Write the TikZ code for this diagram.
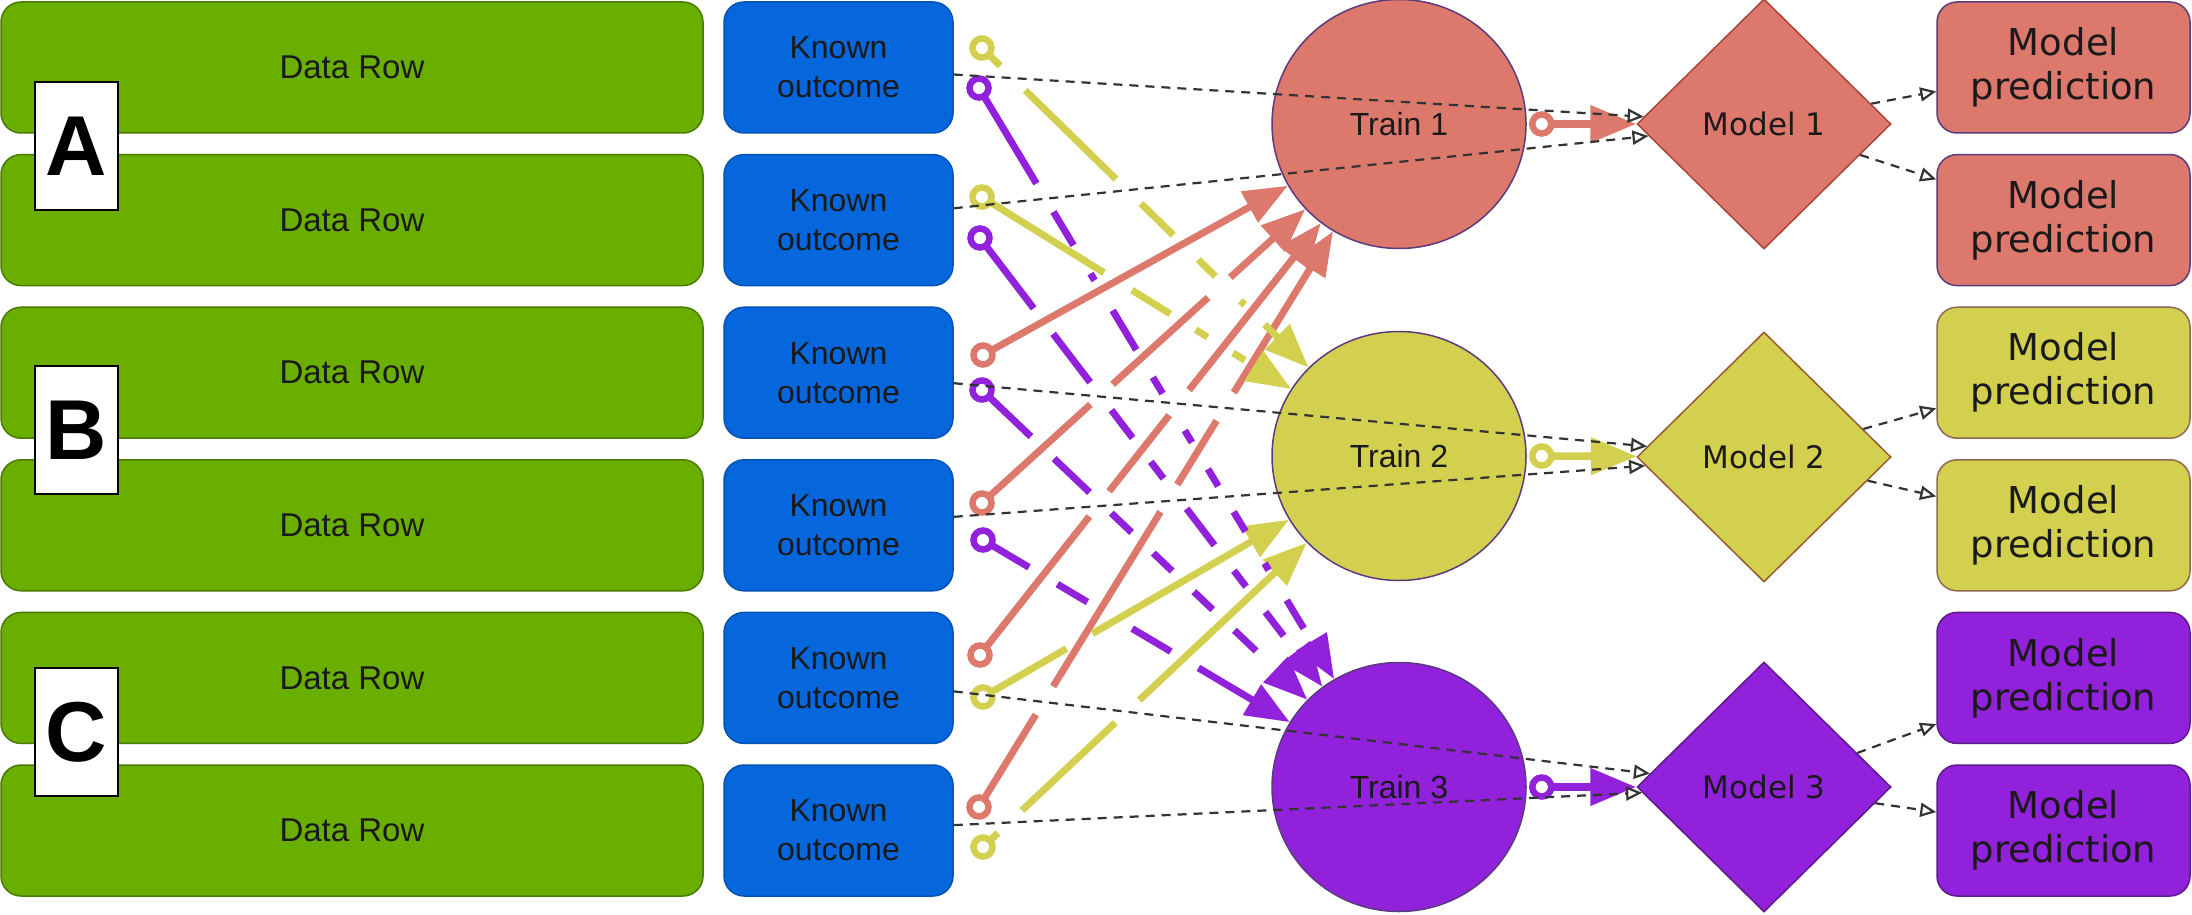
\documentclass[tikz,border=0pt]{standalone}
\usepackage{fontspec}
\setmainfont{Liberation Sans}
\newfontfamily\dejavu{DejaVu Sans}
\usetikzlibrary{arrows.meta,shapes.geometric,calc}
\definecolor{rowgreen}{HTML}{6AAF00}
\definecolor{rowgreenb}{HTML}{4A7A00}
\definecolor{kblue}{HTML}{0667DD}
\definecolor{kblueb}{HTML}{0552B5}
\definecolor{cred}{HTML}{DD786C}
\definecolor{cyel}{HTML}{D3D04F}
\definecolor{cpur}{HTML}{9121DB}
\definecolor{credb}{HTML}{A8453C}
\definecolor{cyelb}{HTML}{9A5A30}
\definecolor{cpurb}{HTML}{5E1A8A}
\definecolor{cbord}{HTML}{5C3A7E}
\definecolor{dgray}{HTML}{333333}
\definecolor{txt}{HTML}{1A1A1A}
\begin{document}
\begin{tikzpicture}[x=1pt,y=-1pt,
 datarow/.style={draw=rowgreenb, line width=1.5pt, fill=rowgreen, rounded corners=20pt, minimum width=702pt, minimum height=131pt, inner sep=0pt, text=txt, font=\fontsize{33}{38}\selectfont},
 known/.style={draw=kblueb, line width=1.5pt, fill=kblue, rounded corners=20pt, minimum width=229pt, minimum height=131pt, align=center, inner sep=0pt, text=txt, font=\fontsize{32}{39}\selectfont},
 pred/.style={line width=1.5pt, rounded corners=20pt, minimum width=253pt, minimum height=131pt, align=center, inner sep=0pt, text=txt, font=\dejavu\fontsize{37}{44}\selectfont},
 train/.style={ellipse, draw=cbord, line width=1.5pt, minimum width=254pt, minimum height=249pt, inner sep=0pt, text=txt, font=\fontsize{32}{36}\selectfont},
 model/.style={diamond, line width=1.5pt, minimum width=254pt, minimum height=250pt, inner sep=0pt, text=txt, font=\dejavu\fontsize{31}{36}\selectfont},
 grp/.style={draw=black, line width=2pt, fill=white, minimum width=83pt, minimum height=128pt, inner sep=0pt, font=\bfseries\fontsize{85}{90}\selectfont},
 tail/.style={circle, draw, line width=6.5pt, fill=white, minimum size=19pt, inner sep=0pt, outer sep=0pt},
 feed/.style={line width=7pt, -{Triangle[length=44pt,width=34pt]}},
 outarrow/.style={line width=7.5pt, -{Triangle[length=46pt,width=36pt]}},
 dline/.style={draw=dgray, line width=2.2pt, dash pattern=on 9pt off 7pt, -{Triangle[open,length=16pt,width=14pt,fill=white]}},
]
\useasboundingbox (0,0) rectangle (2192,915);

% data rows and known outcomes
\foreach \i/\y in {1/67.5,2/220.1,3/372.7,4/525.3,5/677.9,6/830.5}{
  \node[datarow] (d\i) at (352,\y) {Data Row};
  \node[known] (k\i) at (838.5,\y) {Known\\outcome};
}

% group labels
\node[grp] (ga) at (76.5,146) {A};
\node[grp] (gb) at (76.5,430) {B};
\node[grp] (gc) at (76,732) {C};

% training sets
\node[train, fill=cred] (t1) at (1399,124) {Train 1};
\node[train, fill=cyel] (t2) at (1399,456) {Train 2};
\node[train, fill=cpur] (t3) at (1399,787) {Train 3};

% models
\node[model, fill=cred, draw=credb] (m1) at (1764,124) {Model 1};
\node[model, fill=cyel, draw=cyelb] (m2) at (1764,457) {Model 2};
\node[model, fill=cpur, draw=cpurb] (m3) at (1764,787) {Model 3};

% predictions
\node[pred, fill=cred, draw=cbord] (p1) at (2063.5,67.5) {Model\\prediction};
\node[pred, fill=cred, draw=cbord] (p2) at (2063.5,220.1) {Model\\prediction};
\node[pred, fill=cyel, draw=cyelb!60!gray] (p3) at (2063.5,372.7) {Model\\prediction};
\node[pred, fill=cyel, draw=cyelb!60!gray] (p4) at (2063.5,525.3) {Model\\prediction};
\node[pred, fill=cpur, draw=cpurb] (p5) at (2063.5,677.9) {Model\\prediction};
\node[pred, fill=cpur, draw=cpurb] (p6) at (2063.5,830.5) {Model\\prediction};

% tails of the feeding lines
\node[tail, draw=cyel] (s1u) at (982,48) {};
\node[tail, draw=cpur] (s1l) at (979,88) {};
\node[tail, draw=cyel] (s2u) at (982,197) {};
\node[tail, draw=cpur] (s2l) at (980,238) {};
\node[tail, draw=cred] (s3u) at (983,355) {};
\node[tail, draw=cpur] (s3l) at (982,390) {};
\node[tail, draw=cred] (s4u) at (982,503) {};
\node[tail, draw=cpur] (s4l) at (983,540) {};
\node[tail, draw=cred] (s5u) at (980,655) {};
\node[tail, draw=cyel] (s5l) at (983,697) {};
\node[tail, draw=cred] (s6u) at (979,807) {};
\node[tail, draw=cyel] (s6l) at (983,847) {};

% red feeds -> Train 1
\draw[feed, cred] (s3u) -- (t1);
\draw[feed, cred, dash pattern=on 137pt off 30pt on 129pt off 30pt on 400pt] (s4u) -- (t1);
\draw[feed, cred, dash pattern=on 167pt off 32pt on 97pt off 32pt on 400pt] (s5u) -- (t1);
\draw[feed, cred, dash pattern=on 99pt off 33pt on 205pt off 32pt on 75pt off 33pt on 400pt] (s6u) -- (t1);

% yellow feeds -> Train 2
\draw[feed, cyel, dash pattern=on 16pt off 35pt on 127pt off 35pt on 45pt off 35pt on 24pt off 35pt on 6pt off 28pt on 400pt] (s1u) -- (t2);
\draw[feed, cyel, dash pattern=on 134pt off 33pt on 45pt off 30pt on 14pt off 30pt on 14pt off 30pt on 400pt] (s2u) -- (t2);
\draw[feed, cyel, dash pattern=on 87pt off 30pt on 400pt] (s5l) -- (t2);
\draw[feed, cyel, dash pattern=on 11pt off 33pt on 128pt off 33pt on 400pt] (s6l) -- (t2);

% purple feeds -> Train 3
\draw[feed, cpur, dash pattern=on 102pt off 33pt on 39pt off 33pt on 8pt off 35pt on 46pt off 32pt on 19pt off 43pt on 14pt off 31pt on 20pt off 30pt on 23pt off 37pt on 8pt off 35pt on 33pt off 30pt on 400pt] (s1l) -- (t3);
\draw[feed, cpur, dash pattern=on 79pt off 32pt on 61pt off 35pt on 35pt off 30pt on 21pt off 38pt on 46pt off 32pt on 20pt off 32pt on 30pt off 30pt on 400pt] (s2l) -- (t3);
\draw[feed, cpur, dash pattern=on 58pt off 32pt on 49pt off 30pt on 28pt off 30pt on 26pt off 30pt on 26pt off 30pt on 30pt off 30pt on 400pt] (s3l) -- (t3);
\draw[feed, cpur, dash pattern=on 44pt off 33pt on 35pt off 52pt on 45pt off 32pt on 400pt] (s4l) -- (t3);

% train -> model
\node[tail, draw=cred] (o1) at ($(t1.east)+(15,0)$) {};
\node[tail, draw=cyel] (o2) at ($(t2.east)+(15,0)$) {};
\node[tail, draw=cpur] (o3) at ($(t3.east)+(15,0)$) {};
\draw[outarrow, cred] (o1) -- (m1);
\draw[outarrow, cyel] (o2) -- (m2);
\draw[outarrow, cpur] (o3) -- (m3);

% known outcomes -> models
\draw[dline] (k1) -- (m1);
\draw[dline] (k2) -- (m1);
\draw[dline] (k3) -- (m2);
\draw[dline] (k4) -- (m2);
\draw[dline] (k5) -- (m3);
\draw[dline] (k6) -- (m3);

% models -> predictions
\draw[dline] (m1) -- (p1);
\draw[dline] (m1) -- (p2);
\draw[dline] (m2) -- (p3);
\draw[dline] (m2) -- (p4);
\draw[dline] (m3) -- (p5);
\draw[dline] (m3) -- (p6);
\end{tikzpicture}
\end{document}
